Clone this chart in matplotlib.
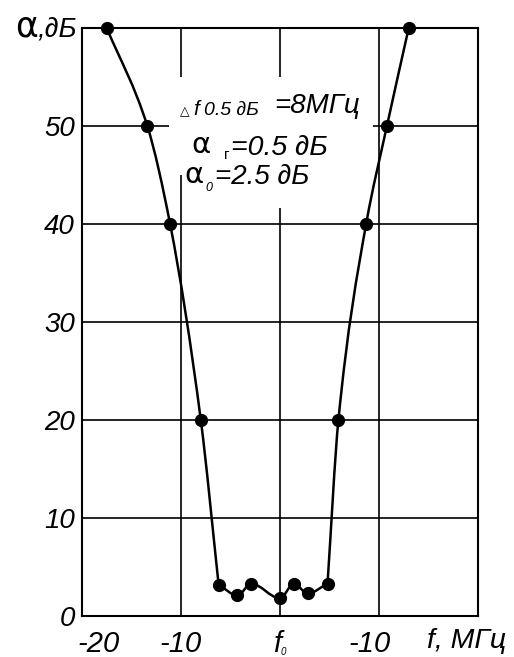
import matplotlib.pyplot as plt
import numpy as np
from matplotlib.path import Path
from matplotlib.patches import PathPatch, Rectangle
from matplotlib.transforms import ScaledTranslation

plt.rcParams['font.family'] = ['Liberation Sans', 'DejaVu Sans']

# frequency offset from f0, MHz
freq = [-17.5, -13.4, -11.1, -8.0, -6.2, -4.3, -2.9, 0.0, 1.4, 2.8, 4.8, 5.9, 8.7, 10.8, 13.0]
# attenuation, dB
atten = [60, 50, 40, 20, 3.2, 2.1, 3.3, 1.8, 3.3, 2.3, 3.3, 20, 40, 50, 60]

xticks = [-20, -10, 0, 10]
xticklabels = ['-20', '-10', 'f', '-10']
yticks = [0, 10, 20, 30, 40, 50]

fig = plt.figure(figsize=(5.14, 6.57), dpi=100)
ax = fig.add_axes([82 / 514, 41 / 657, 396 / 514, 588 / 657])
ax.set_xlim(-20, 20)
ax.set_ylim(0, 60)

# smooth curve through the points: monotone cubic drawn as a bezier path,
# with a corner where the steep skirt meets the flat passband
x = np.array(freq, float)
y = np.array(atten, float)
h = np.diff(x)
s = np.diff(y) / h
dl = np.zeros_like(y)  # slope arriving at a point
dr = np.zeros_like(y)  # slope leaving a point
dl[0] = dr[0] = s[0]
dl[-1] = dr[-1] = s[-1]
for i in range(1, len(x) - 1):
    a, b = s[i - 1], s[i]
    if a * b > 0:
        big, small = max(abs(a), abs(b)), min(abs(a), abs(b))
        if big > 4 * small:
            dl[i], dr[i] = a, b
        else:
            w1 = 2 * h[i] + h[i - 1]
            w2 = h[i] + 2 * h[i - 1]
            dl[i] = dr[i] = (w1 + w2) / (w1 / a + w2 / b)
    elif abs(a) > 4 * abs(b) or abs(b) > 4 * abs(a):
        dl[i], dr[i] = a, b
verts = [(x[0], y[0])]
codes = [Path.MOVETO]
for i in range(len(x) - 1):
    verts += [(x[i] + h[i] / 3, y[i] + dr[i] * h[i] / 3),
              (x[i + 1] - h[i] / 3, y[i + 1] - dl[i + 1] * h[i] / 3),
              (x[i + 1], y[i + 1])]
    codes += [Path.CURVE4] * 3
ax.add_patch(PathPatch(Path(verts, codes), fill=False, lw=1.8, color='black',
                       zorder=3, clip_on=False))
ax.plot(freq, atten, 'o', color='black', ms=8.5, zorder=4, clip_on=False)

# grid and frame
ax.set_axisbelow(True)
ax.set_xticks(xticks)
ax.set_xticklabels(xticklabels)
ax.set_yticks(yticks)
ax.set_yticklabels([str(v) for v in yticks])
ax.grid(True, color='black', lw=1.2)
for sp in ax.spines.values():
    sp.set_linewidth(1.5)
ax.tick_params(axis='y', length=0, pad=5, labelsize=20)
ax.tick_params(axis='x', length=0, pad=10, labelsize=21)
for lab in ax.get_xticklabels() + ax.get_yticklabels():
    lab.set_style('italic')
xl = ax.get_xticklabels()
xl[0].set_transform(xl[0].get_transform() + ScaledTranslation(17 / 100, 0, fig.dpi_scale_trans))
xl[3].set_transform(xl[3].get_transform() + ScaledTranslation(-9 / 100, 0, fig.dpi_scale_trans))
xl[2].set_transform(xl[2].get_transform() + ScaledTranslation(-3 / 100, 0, fig.dpi_scale_trans))

# subscript of f0 and axis names
ax.text(0.1, -4.0, '0', fontsize=7, style='italic', ha='left', va='baseline')
ax.text(14.85, -3.27, 'f, МГц', fontsize=20.5, style='italic', ha='left', va='baseline')
ax.text(-24.4, 59.1, 'α', fontsize=25, family='DejaVu Sans', ha='right', va='baseline')
ax.text(-20.5, 59.1, ',∂Б', fontsize=20, style='italic', ha='right', va='baseline')

# white boxes behind the parameter text
for bx0, by0, bx1, by1 in [(-11.2, 49.6, 9.4, 55.0), (-10.4, 45.0, 6.8, 49.8), (-9.4, 41.6, 5.3, 45.2)]:
    ax.add_patch(Rectangle((bx0, by0), bx1 - bx0, by1 - by0, facecolor='white',
                           edgecolor='none', zorder=1))

# parameters
ax.text(-10.1, 51.1, '△', fontsize=9, family='DejaVu Sans', ha='left', va='baseline', zorder=5)
ax.text(-8.8, 51.1, 'f', fontsize=15, style='italic', ha='left', va='baseline', zorder=5)
ax.text(-7.7, 51.1, '0.5 ∂Б', fontsize=14, style='italic', ha='left', va='baseline', zorder=5)
ax.text(-0.6, 51.3, '=8МГц', fontsize=20, style='italic', ha='left', va='baseline', zorder=5)

ax.text(-9.0, 47.2, 'α', fontsize=21, family='DejaVu Sans', ha='left', va='baseline', zorder=5)
ax.text(-5.7, 46.6, 'г', fontsize=11, ha='left', va='baseline', zorder=5)
ax.text(-4.95, 47.0, '=0.5 ∂Б', fontsize=20.5, style='italic', ha='left', va='baseline', zorder=5)

ax.text(-9.7, 44.2, 'α', fontsize=21, family='DejaVu Sans', ha='left', va='baseline', zorder=5)
ax.text(-7.5, 43.4, '0', fontsize=9, style='italic', ha='left', va='baseline', zorder=5)
ax.text(-6.55, 44.1, '=2.5 ∂Б', fontsize=20, style='italic', ha='left', va='baseline', zorder=5)

fig.savefig('out.png', dpi=100)
